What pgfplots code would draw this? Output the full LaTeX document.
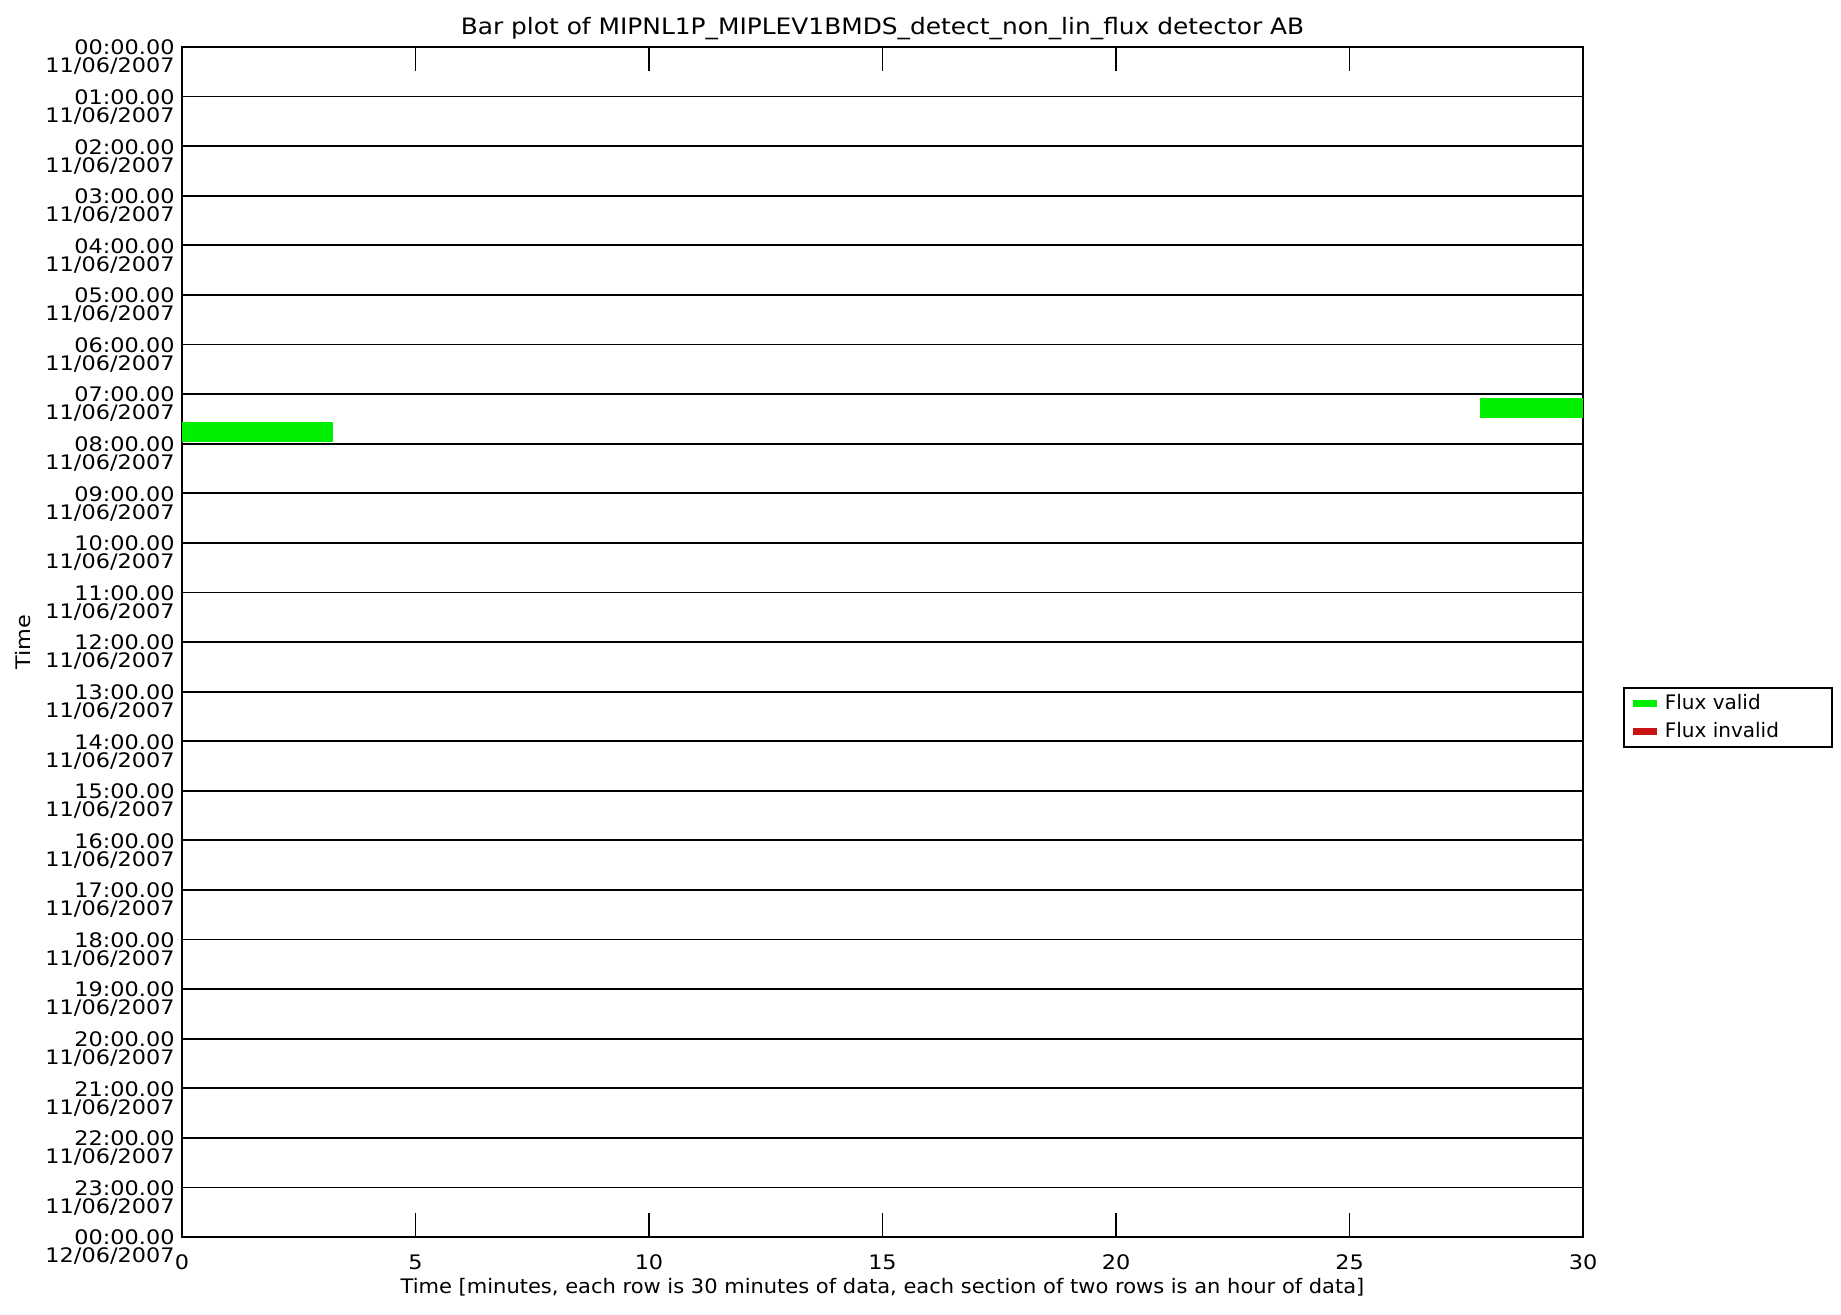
\documentclass[border=0pt]{standalone}
\usepackage{pgfplots}
\pgfplotsset{compat=1.18}
\usepackage{fontspec}
\setmainfont{DejaVu Sans}
\newfontfamily\wideA[FakeStretch=1.12]{DejaVu Sans}
\newfontfamily\wideT[FakeStretch=1.10]{DejaVu Sans}
\newfontfamily\wideX[FakeStretch=1.05]{DejaVu Sans}
\definecolor{fluxgreen}{RGB}{0,238,0}
\definecolor{fluxred}{RGB}{200,20,20}
\begin{document}
\begin{tikzpicture}
\begin{axis}[
  at={(0,0)}, anchor=south west,
  scale only axis,
  width=700.5pt, height=595pt,
  xmin=0, xmax=30, ymin=0, ymax=24,
  y dir=reverse,
  axis line style={black, line width=1pt},
  xtick={0,5,...,30},
  xtick pos=both, xticklabel pos=lower,
  tick align=inside,
  major tick length=12pt,
  x tick style={black, line width=0.8pt},
  xticklabel style={anchor=center, yshift=-12.5pt, font=\wideA\fontsize{10}{10}\selectfont},
  /pgf/number format/assume math mode=true,
  ytick={0,...,24},
  y tick style={draw=none},
  ymajorgrids,
  major grid style={black, line width=0.9pt},
  yticklabel style={align=right, anchor=north east, inner sep=0pt, xshift=-3.5pt, yshift=3.7pt, font=\wideA\fontsize{10}{9}\selectfont},
  yticklabels={
    {00:00.00\\11/06/2007},{01:00.00\\11/06/2007},{02:00.00\\11/06/2007},{03:00.00\\11/06/2007},
    {04:00.00\\11/06/2007},{05:00.00\\11/06/2007},{06:00.00\\11/06/2007},{07:00.00\\11/06/2007},
    {08:00.00\\11/06/2007},{09:00.00\\11/06/2007},{10:00.00\\11/06/2007},{11:00.00\\11/06/2007},
    {12:00.00\\11/06/2007},{13:00.00\\11/06/2007},{14:00.00\\11/06/2007},{15:00.00\\11/06/2007},
    {16:00.00\\11/06/2007},{17:00.00\\11/06/2007},{18:00.00\\11/06/2007},{19:00.00\\11/06/2007},
    {20:00.00\\11/06/2007},{21:00.00\\11/06/2007},{22:00.00\\11/06/2007},{23:00.00\\11/06/2007},
    {00:00.00\\12/06/2007}},
  title={Bar plot of MIPNL1P\_MIPLEV1BMDS\_detect\_non\_lin\_flux detector AB},
  title style={at={(axis description cs:0.5,1)}, anchor=center, yshift=3pt, font=\wideT\fontsize{11.3}{11.3}\selectfont},
  xlabel={Time [minutes, each row is 30 minutes of data, each section of two rows is an hour of data]},
  xlabel style={at={(axis description cs:0.5,0)}, anchor=center, yshift=-25pt, font=\wideX\fontsize{10}{10}\selectfont},
  ylabel={Time},
  ylabel style={at={(axis description cs:-0.1135,0.5)}, anchor=center, font=\wideA\fontsize{10}{10}\selectfont},
  legend style={at={(axis description cs:1.0286,0.4622)}, anchor=north west, draw=black, line width=0.8pt,
    font=\fontsize{10}{10}\selectfont, row sep=0.5pt, inner xsep=3pt, inner ysep=1.5pt},
  legend cell align=left,
  legend image code/.code={\draw[line width=3.5pt, #1] (0pt,0pt) -- (12pt,0pt);},
]
\addlegendimage{fluxgreen}
\addlegendentry{Flux valid}
\addlegendimage{fluxred}
\addlegendentry{Flux invalid\rule{21.5pt}{0pt}}
% Flux valid segments (x in minutes, y in hours)
\addplot[fill=fluxgreen, draw=none, forget plot] coordinates {(0,7.56) (3.23,7.56) (3.23,7.97) (0,7.97)} -- cycle;
\addplot[fill=fluxgreen, draw=none, forget plot] coordinates {(27.79,7.07) (30,7.07) (30,7.48) (27.79,7.48)} -- cycle;
\end{axis}
\path (-91pt,-38.5pt) rectangle (829.5pt,618.5pt);
\end{tikzpicture}
\end{document}
